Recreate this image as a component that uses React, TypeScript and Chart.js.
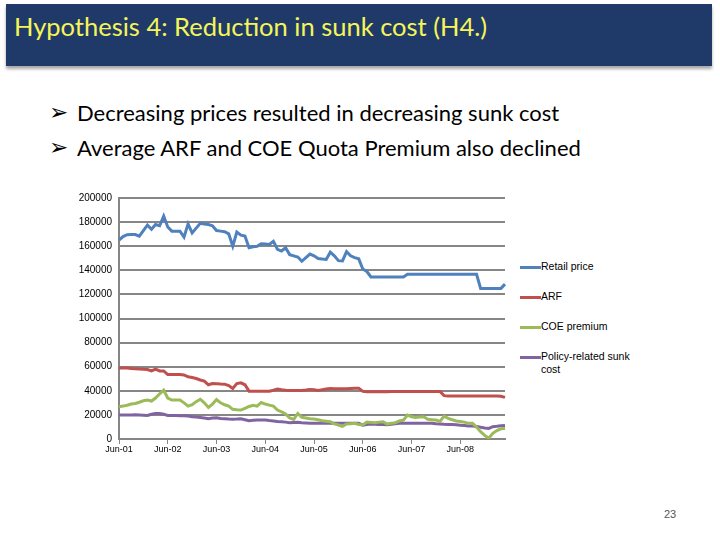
import React, { useEffect, useRef } from "react";
import { Chart, registerables } from "chart.js";
Chart.register(...registerables);

const monthNames = ["Jan","Feb","Mar","Apr","May","Jun","Jul","Aug","Sep","Oct","Nov","Dec"];
// Monthly categories Jun-01 .. May-09
const categories: string[] = [];
for (let k = 0; k < 96; k++) {
  const m = (5 + k) % 12;
  const y = 1 + Math.floor((5 + k) / 12);
  categories.push(monthNames[m] + "-" + String(y).padStart(2, "0"));
}

const retailPrice = [
  165000, 168000, 169500, 169700, 169700, 168400, 173000, 177500, 174000, 178000,
  177000, 185000, 176000, 172500, 172500, 172500, 167500, 178500, 171000, 175000,
  179000, 178500, 178000, 177000, 173000, 172500, 172000, 170300, 160000, 171700,
  169200, 168400, 158700, 159500, 160000, 162000, 161800, 161500, 164000, 157400,
  156000, 158700, 153000, 152000, 151000, 147500, 150500, 153500, 152000, 149700,
  149300, 149000, 155000, 152000, 148000, 147800, 155500, 152000, 150500, 149500,
  141000, 139000, 134500, 134500, 134500, 134500, 134500, 134500, 134500, 134500,
  134500, 136700, 136700, 136700, 136700, 136700, 136700, 136700, 136700, 136700,
  136700, 136700, 136700, 136700, 136700, 136700, 136700, 136700, 136700, 125000,
  125000, 125000, 125000, 125000, 125000, 128500,
];

const arf = [
  59000, 59000, 59000, 58600, 58200, 58000, 57900, 57700, 56500, 58000,
  56500, 56500, 53500, 53500, 53500, 53500, 53200, 51600, 51000, 50200,
  49000, 48000, 45000, 46000, 45800, 45600, 45500, 44400, 42000, 46000,
  46600, 45000, 39700, 39700, 39700, 39700, 39700, 39700, 40500, 41400,
  40800, 40500, 40300, 40300, 40300, 40300, 40600, 41100, 40800, 40300,
  40800, 41500, 41900, 41800, 41800, 41800, 41800, 42000, 42200, 42200,
  39500, 39300, 39300, 39300, 39300, 39300, 39300, 39400, 39400, 39400,
  39400, 39500, 39500, 39500, 39500, 39500, 39500, 39500, 39500, 39500,
  36000, 35600, 35600, 35600, 35600, 35600, 35600, 35600, 35600, 35600,
  35600, 35600, 35600, 35600, 35500, 34500,
];

const coePremium = [
  26800, 27300, 28000, 29000, 29500, 30500, 31700, 32300, 31500, 34000,
  37500, 40500, 34000, 32300, 32300, 32300, 30000, 27300, 28500, 31000,
  33000, 30000, 26200, 29000, 32800, 30000, 28400, 27300, 24600, 24200,
  24000, 25500, 27000, 28000, 27300, 30300, 29000, 28100, 27300, 24000,
  22600, 20700, 17500, 16300, 21200, 18000, 17500, 16800, 16600, 16000,
  15200, 14800, 14300, 12500, 11600, 10500, 12400, 12700, 13000, 12000,
  11600, 14100, 13800, 13500, 14000, 14300, 12400, 13000, 13500, 15000,
  15700, 19900, 18500, 17900, 18200, 18500, 16300, 16000, 15700, 14600,
  19000, 17100, 16000, 14900, 14600, 14000, 13000, 13000, 10000, 6100,
  3000, 600, 4700, 7000, 8500, 8800,
];

const policySunkCost = [
  20000, 20000, 20000, 20000, 20100, 20000, 19800, 19600, 20500, 21200,
  21200, 20500, 19600, 19600, 19500, 19300, 19300, 19000, 18500, 18200,
  17900, 17500, 16800, 17500, 17600, 17000, 16800, 16500, 16300, 16500,
  16800, 16000, 15200, 15500, 15700, 15700, 15700, 15300, 15000, 14600,
  14300, 14000, 13500, 13700, 13800, 13500, 13300, 13100, 13000, 13000,
  13000, 13000, 13000, 13000, 13000, 13000, 13000, 13000, 13000, 13000,
  11500, 12000, 12400, 12300, 12100, 12000, 11900, 12300, 12700, 13000,
  13000, 13000, 13000, 13000, 13000, 13000, 13000, 13000, 12600, 12400,
  12200, 12100, 12100, 11800, 11500, 11200, 10800, 10800, 10300, 9700,
  9200, 8800, 10200, 10500, 11000, 11300,
];

const seriesNames = ["Retail price", "ARF", "COE premium", "Policy-related sunk cost"];
const seriesColors = ["#4F81BD", "#C0504D", "#9BBB59", "#8064A2"];
const seriesData = [retailPrice, arf, coePremium, policySunkCost];

const yMin = 0;
const yMax = 200000;
const yStep = 20000;

const bullets = [
  "Decreasing prices resulted in decreasing sunk cost",
  "Average ARF and COE Quota Premium also declined",
];

const legendTops = [267, 297, 327, 357];

function LineChart() {
  const ref = useRef<HTMLCanvasElement | null>(null);
  useEffect(() => {
    if (!ref.current) return;
    const chart = new Chart(ref.current, {
      type: "line",
      data: {
        labels: categories,
        datasets: seriesData.map((d, i) => ({
          label: seriesNames[i],
          data: d,
          borderColor: seriesColors[i],
          backgroundColor: seriesColors[i],
          borderWidth: 3,
          pointRadius: 0,
          tension: 0,
          fill: false,
        })),
      },
      options: {
        animation: false,
        responsive: false,
        events: [],
        layout: { padding: { top: 12, right: 15, left: 0, bottom: 0 } },
        plugins: {
          legend: { display: false },
          tooltip: { enabled: false },
        },
        scales: {
          x: {
            type: "category",
            offset: false,
            grid: {
              drawOnChartArea: false,
              drawTicks: true,
              tickLength: 5,
              color: "#868686",
              lineWidth: 1,
            },
            border: { display: true, color: "#868686", width: 2 },
            ticks: {
              autoSkip: false,
              maxRotation: 0,
              minRotation: 0,
              padding: 0,
              color: "#000000",
              font: { family: "'Liberation Sans', Arial, sans-serif", size: 9 },
              callback: (_v: any, i: number) => (i % 12 === 0 ? categories[i] : null),
            },
            afterFit: (s: any) => {
              s.height = 21;
            },
          },
          y: {
            min: yMin,
            max: yMax,
            grid: {
              color: "#868686",
              lineWidth: 2,
              drawTicks: false,
            },
            border: { display: true, color: "#868686", width: 2 },
            ticks: {
              stepSize: yStep,
              padding: 7,
              color: "#000000",
              font: { family: "'Liberation Sans', Arial, sans-serif", size: 10 },
              callback: (v: any) => String(v),
            },
            afterFit: (s: any) => {
              s.width = 59;
            },
          },
        },
      },
    });
    return () => chart.destroy();
  }, []);
  return (
    <canvas
      ref={ref}
      width={460}
      height={275}
      style={{ position: "absolute", left: 60, top: 185, width: 460, height: 275 }}
    />
  );
}

export default function App() {
  return (
    <div
      style={{
        position: "absolute",
        left: 0,
        top: 0,
        width: 720,
        height: 540,
        background: "#ffffff",
        overflow: "hidden",
      }}
    >
      <div
        style={{
          position: "absolute",
          left: 6,
          top: 4,
          width: 706,
          height: 62,
          background: "#1F3A68",
          boxShadow: "0 3px 3px rgba(0,0,0,0.35)",
        }}
      />
      <div
        style={{
          position: "absolute",
          left: 14,
          top: 13,
          fontFamily: "Lato, 'Open Sans', sans-serif",
          fontSize: 25.5,
          lineHeight: "26px",
          color: "#F5F55A",
          whiteSpace: "nowrap",
        }}
      >
        Hypothesis 4: Reduction in sunk cost (H4.)
      </div>

      {bullets.map((t, i) => (
        <div key={i}>
          <div
            style={{
              position: "absolute",
              left: 49,
              top: 100 + i * 34.5,
              fontFamily: "'DejaVu Sans', sans-serif",
              fontSize: 23,
              fontWeight: "bold",
              lineHeight: "24px",
              color: "#000",
            }}
          >
            ➢
          </div>
          <div
            style={{
              position: "absolute",
              left: 77,
              top: 102 + i * 34.5,
              fontFamily: "Lato, 'Open Sans', sans-serif",
              fontSize: 22,
              lineHeight: "22px",
              color: "#000",
              whiteSpace: "nowrap",
            }}
          >
            {t}
          </div>
        </div>
      ))}

      <LineChart />

      {seriesNames.map((n, i) => (
        <div key={n}>
          <div
            style={{
              position: "absolute",
              left: 520,
              top: legendTops[i] - 1.5,
              width: 21,
              height: 3,
              background: seriesColors[i],
            }}
          />
          <div
            style={{
              position: "absolute",
              left: 541,
              top: legendTops[i] - 7,
              width: 100,
              fontFamily: "'Liberation Sans', Arial, sans-serif",
              fontSize: 10.5,
              lineHeight: "13px",
              color: "#000",
            }}
          >
            {n}
          </div>
        </div>
      ))}

      <div
        style={{
          position: "absolute",
          left: 664,
          top: 508,
          fontFamily: "'Liberation Sans', Arial, sans-serif",
          fontSize: 11,
          color: "#555",
        }}
      >
        23
      </div>
    </div>
  );
}
